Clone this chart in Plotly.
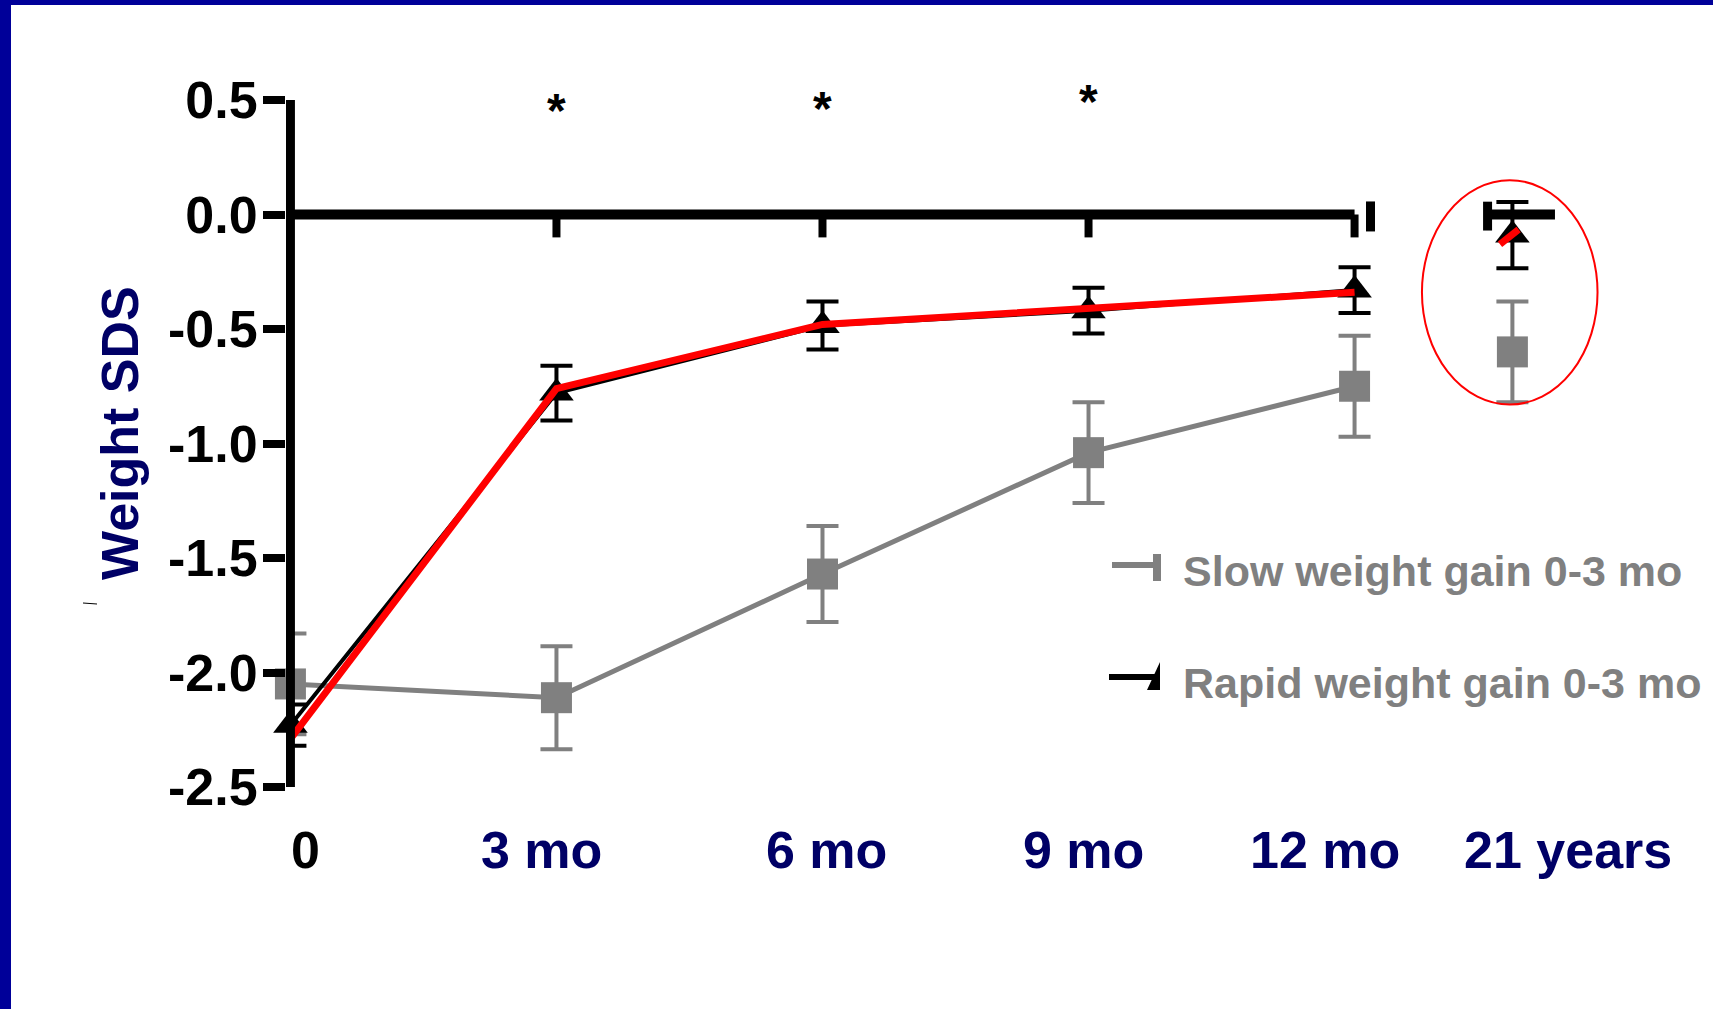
import plotly.graph_objects as go

# ---------------- data ----------------
categories = ["0", "3 mo", "6 mo", "9 mo", "12 mo", "21 years"]
x_pos = [0, 3, 6, 9, 12, 13.78]          # placement of each time point on the axis
label_pos = [0.175, 2.83, 6.04, 8.94, 11.67, 14.41]  # placement of category labels

slow_mean = [-2.05, -2.11, -1.57, -1.04, -0.75, -0.60]
slow_err = [0.22, 0.225, 0.21, 0.22, 0.22, 0.22]

rapid_mean = [-2.23, -0.78, -0.485, -0.42, -0.33, -0.09]
rapid_err = [0.09, 0.12, 0.105, 0.10, 0.10, 0.145]

highlight = [-2.29, -0.76, -0.48, -0.41, -0.34]   # red hand-drawn overlay

sig_pos = [3, 6, 9]
sig_y = [0.49, 0.50, 0.53]

y_ticks = [0.5, 0.0, -0.5, -1.0, -1.5, -2.0, -2.5]
y_ticktext = ["0.5", "0.0", "-0.5", "-1.0", "-1.5", "-2.0", "-2.5"]

legend_names = ["Slow weight gain 0-3 mo", "Rapid weight gain 0-3 mo"]

# ---------------- styling ----------------
W, H = 1713, 1009
L, R, T, B = 286, 33, 100, 222
PW, PH = W - L - R, H - T - B
XR = [-0.05, 15.67]
YR = [-2.5, 0.5]
FONT = "Liberation Sans, Arial, sans-serif"
GRAY = "#808080"
NAVY = "#000066"
BORDER = "#000099"


def px_x(p):
    return (p - L) / PW


def px_y(p):
    return (H - B - p) / PH


def val_y(v):
    return (v - YR[0]) / (YR[1] - YR[0])


fig = go.Figure()

# slow group
fig.add_trace(go.Scatter(x=x_pos[:5], y=slow_mean[:5], mode="lines",
                         line=dict(color=GRAY, width=5), showlegend=False,
                         cliponaxis=False))
fig.add_trace(go.Scatter(x=x_pos, y=slow_mean, mode="markers",
                         marker=dict(symbol="square", size=31, color=GRAY),
                         error_y=dict(type="data", array=slow_err, color=GRAY,
                                      thickness=4, width=16),
                         showlegend=False, cliponaxis=False))
# rapid group
fig.add_trace(go.Scatter(x=x_pos[:5], y=rapid_mean[:5], mode="lines",
                         line=dict(color="black", width=4), showlegend=False,
                         cliponaxis=False))
fig.add_trace(go.Scatter(x=x_pos, y=rapid_mean, mode="markers",
                         marker=dict(symbol="triangle-up", size=30, color="black"),
                         error_y=dict(type="data", array=rapid_err, color="black",
                                      thickness=4, width=16),
                         showlegend=False, cliponaxis=False))
# red overlay
fig.add_trace(go.Scatter(x=x_pos[:5], y=highlight, mode="lines",
                         line=dict(color="#ff0000", width=7), showlegend=False,
                         cliponaxis=False))

shapes = []
# blue frame (top and left)
shapes.append(dict(type="rect", xref="paper", yref="paper",
                   x0=px_x(0), x1=px_x(W), y0=px_y(0), y1=px_y(5),
                   fillcolor=BORDER, line=dict(width=0), layer="below"))
shapes.append(dict(type="rect", xref="paper", yref="paper",
                   x0=px_x(0), x1=px_x(11), y0=px_y(H), y1=px_y(0),
                   fillcolor=BORDER, line=dict(width=0), layer="below"))
# y axis line at x = 0
shapes.append(dict(type="line", xref="x", yref="y", x0=0, x1=0,
                   y0=YR[0] - 0.015, y1=YR[1] + 0.015,
                   line=dict(color="black", width=9)))
# zero line (broken axis) with ticks
shapes.append(dict(type="line", xref="x", yref="y", x0=0, x1=x_pos[4],
                   y0=0, y1=0, line=dict(color="black", width=10)))
for xp in x_pos[1:5]:
    shapes.append(dict(type="line", xref="x", yref="y", x0=xp, x1=xp,
                       y0=0, y1=-0.10, line=dict(color="black", width=8)))
shapes.append(dict(type="line", xref="x", yref="y", x0=12.18, x1=12.18,
                   y0=0.057, y1=-0.074, line=dict(color="black", width=9)))
shapes.append(dict(type="line", xref="x", yref="y", x0=13.47, x1=14.26,
                   y0=0, y1=0, line=dict(color="black", width=10)))
shapes.append(dict(type="line", xref="x", yref="y", x0=13.5, x1=13.5,
                   y0=0.056, y1=-0.07, line=dict(color="black", width=9)))
# red dash remnant at 21 years
shapes.append(dict(type="line", xref="x", yref="y", x0=13.64, x1=13.85,
                   y0=-0.13, y1=-0.066, line=dict(color="#ff0000", width=7)))
# red ellipse
shapes.append(dict(type="circle", xref="x", yref="y", x0=12.76, x1=14.74,
                   y0=-0.83, y1=0.15, line=dict(color="#ff0000", width=2)))
# legend glyphs
shapes.append(dict(type="line", xref="paper", yref="paper",
                   x0=px_x(1112), x1=px_x(1156), y0=px_y(565), y1=px_y(565),
                   line=dict(color=GRAY, width=6)))
shapes.append(dict(type="line", xref="paper", yref="paper",
                   x0=px_x(1157), x1=px_x(1157), y0=px_y(554), y1=px_y(581),
                   line=dict(color=GRAY, width=8)))
shapes.append(dict(type="line", xref="paper", yref="paper",
                   x0=px_x(1109), x1=px_x(1155), y0=px_y(677), y1=px_y(677),
                   line=dict(color="black", width=6)))
shapes.append(dict(type="path", xref="paper", yref="paper",
                   path=f"M {px_x(1147)},{px_y(690)} L {px_x(1160)},{px_y(662)} "
                        f"L {px_x(1160)},{px_y(690)} Z",
                   fillcolor="black", line=dict(width=0)))
# small stray mark
shapes.append(dict(type="line", xref="paper", yref="paper",
                   x0=px_x(83), x1=px_x(97), y0=px_y(603), y1=px_y(604),
                   line=dict(color="black", width=1)))

annotations = []
for lbl, lp in zip(categories, label_pos):
    annotations.append(dict(x=lp, y=px_y(850), xref="x", yref="paper",
                            text=lbl, showarrow=False, xanchor="center",
                            yanchor="middle",
                            font=dict(family=FONT, size=52, weight="bold",
                                      color="black" if lbl == "0" else NAVY)))
for sx, sy in zip(sig_pos, sig_y):
    annotations.append(dict(x=sx, y=val_y(sy), xref="x", yref="paper", text="*",
                            showarrow=False, xanchor="center", yanchor="middle",
                            yshift=-8,
                            font=dict(family=FONT, size=48, weight="bold",
                                      color="black")))
annotations.append(dict(x=px_x(120), y=px_y(433), xref="paper", yref="paper",
                        text="Weight SDS", textangle=-90, showarrow=False,
                        xanchor="center", yanchor="middle",
                        font=dict(family=FONT, size=52, weight="bold",
                                  color=NAVY)))
for name, yy in zip(legend_names, [571, 683]):
    annotations.append(dict(x=px_x(1181), y=px_y(yy), xref="paper",
                            yref="paper", text=name, showarrow=False,
                            xanchor="left", yanchor="middle",
                            font=dict(family=FONT, size=43, weight="bold",
                                      color=GRAY)))

fig.update_layout(
    width=W, height=H,
    margin=dict(l=L, r=R, t=T, b=B, pad=0),
    paper_bgcolor="white", plot_bgcolor="white",
    showlegend=False,
    shapes=shapes, annotations=annotations,
    xaxis=dict(range=XR, visible=False, showgrid=False, zeroline=False,
               fixedrange=True),
    yaxis=dict(range=YR, showgrid=False, zeroline=False,
               showline=False,
               ticks="outside", ticklen=22, tickwidth=8, tickcolor="black",
               ticklabelstandoff=-5,
               tickvals=y_ticks, ticktext=y_ticktext,
               tickfont=dict(family=FONT, size=52, weight="bold",
                             color="black"),
               fixedrange=True),
)

fig.write_html(
    "out.html",
    config={"displayModeBar": False},
    post_script="document.body.style.margin='0';document.body.style.overflow='hidden';",
)
